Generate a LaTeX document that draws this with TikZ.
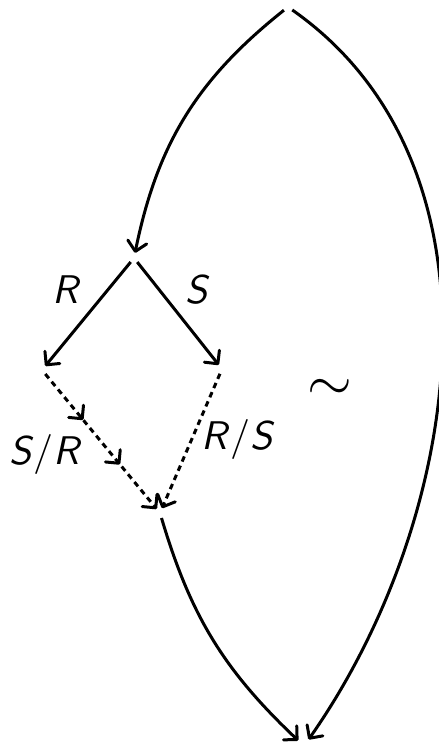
\documentclass[tikz,border=0pt]{standalone}
\usetikzlibrary{arrows.meta,decorations.markings}

\begin{document}
\begin{tikzpicture}[
  x=0.25pt, y=-0.25pt, line width=0.75pt,
  pt/.style={circle, inner sep=0pt, outer sep=0pt, minimum size=2.6pt},
  arr/.style={-{Straight Barb[length=2.4pt, width=4.8pt, round]}},
  dotarr/.style={arr, dash pattern=on 1.4pt off 1.1pt},
  midtips/.style={postaction={decorate}, decoration={markings,
      mark=at position 0.34 with {\arrow{Straight Barb[length=2.4pt, width=4.8pt, round]}},
      mark=at position 0.67 with {\arrow{Straight Barb[length=2.4pt, width=4.8pt, round]}}}},
  lbl/.style={font=\sffamily}]
  \useasboundingbox (0,0) rectangle (438,745);
  \node[pt] (t) at (288,7) {};
  \node[pt] (a) at (134,258) {};
  \node[pt] (b) at (42,370) {};
  \node[pt] (c) at (222,369) {};
  \node[pt] (d) at (160,513) {};
  \node[pt, minimum size=4pt] (e) at (304,746) {};
  \draw[arr] (t) to[bend right=20] (a);
  \draw[arr] (a) -- (b);
  \draw[arr] (a) -- (c);
  \draw[dotarr, midtips] (b) -- (d);
  \draw[dotarr] (c) -- (d);
  \draw[arr] (d) to[bend right=15] (e);
  \draw[arr] (t) to[out=-35, in=55, looseness=0.95] (e);
  \node[lbl] (lr) at (67,290) {\textit{R}};
  \node[lbl] (ls) at (198,290) {\textit{S}};
  \node[lbl] (lsr) at (46,455) {\textit{S}/\textit{R}};
  \node[lbl] (lrs) at (238,440) {\textit{R}/\textit{S}};
  \node (sim) at (330,390) {\Large$\sim$};
\end{tikzpicture}
\end{document}
